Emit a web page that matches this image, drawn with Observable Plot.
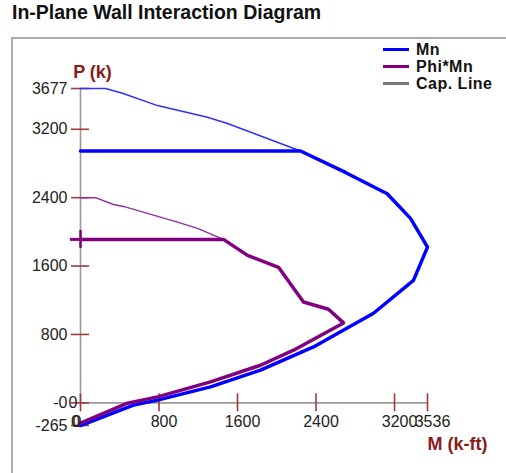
<!DOCTYPE html>
<html><head><meta charset="utf-8">
<script src="https://cdn.jsdelivr.net/npm/d3@7"></script>
<script src="https://cdn.jsdelivr.net/npm/@observablehq/plot@0.6"></script>
<style>
body{margin:0;background:#fff;width:506px;height:473px;overflow:hidden;position:relative;font-family:"Liberation Sans",Arial,sans-serif}
#title{position:absolute;left:12px;top:1px;font-size:19.5px;font-weight:bold;color:#111;white-space:nowrap}
#frame{position:absolute;left:11px;top:37px;width:600px;height:600px;border:2px solid #aaa}
#chart{position:absolute;left:0;top:0}
#legend{position:absolute;left:383px;top:41px}
.item{display:flex;align-items:center;height:17px;line-height:17px;font-size:16px;font-weight:bold;color:#111;white-space:nowrap;letter-spacing:0.5px}
.item span{display:block;height:17px;line-height:17px}
.sw{width:26px;height:3px;margin-right:7px}
</style></head>
<body>
<div id="title">In-Plane Wall Interaction Diagram</div>
<div id="frame"></div>
<div id="chart"></div>
<div id="legend"></div>
<script>
// ---- data ----
const mnUpperM = [0, 255, 428, 785, 1294, 1498, 2242];
const mnUpperP = [3677, 3677, 3621, 3477, 3341, 3268, 2946];
const mnM = [0, 2242, 2700, 3125, 3363, 3536, 3393, 2986, 2374, 1834, 1325, 785, 540, 0];
const mnP = [2946, 2946, 2695, 2446, 2158, 1822, 1433, 1048, 654, 382, 187, 32, -27, -265];
const phiUpperM = [0, 153, 336, 438, 683, 988, 1192, 1457];
const phiUpperP = [2400, 2400, 2321, 2298, 2216, 2114, 2041, 1912];
const phiM = [0, 1457, 1702, 2018, 2272, 2527, 2680, 2171, 1834, 1325, 785, 479, 0];
const phiP = [1912, 1912, 1725, 1585, 1180, 1095, 935, 616, 440, 245, 70, -4, -238];
const phiCap = 1912;
const yTicks = [3677, 3200, 2400, 1600, 800, 0, -265];
const yTickLabels = ["3677", "3200", "2400", "1600", "800", "-0", "-265"];
const xTicks = [0, 800, 1600, 2400, 3200, 3536];
const xTickLabels = ["0", "800", "1600", "2400", "3200", "3536"];
const legendNames = ["Mn", "Phi*Mn", "Cap. Line"];
const legendColors = ["#0000ff", "#800080", "#777777"];

const zip = (a, b) => a.map((v, i) => ({M: v, P: b[i]}));
const blue = "#0000ff", purple = "#800080", tickRed = "#a03a3a", axisGray = "#9a9a9a";
const font = "Liberation Sans, Arial, sans-serif";
const xLab = xTicks.map((v, i) => ({v, t: xTickLabels[i]}));

const chart = Plot.plot({
  width: 506, height: 473,
  marginLeft: 80, marginRight: 79, marginTop: 88, marginBottom: 48,
  x: {domain: [0, 3536], axis: null},
  y: {domain: [-265, 3677], axis: null},
  style: {fontFamily: font, background: "transparent"},
  marks: [
    Plot.ruleX([0], {y1: 0, y2: 3677, stroke: axisGray, strokeWidth: 1.6}),
    Plot.ruleY([0], {x1: 0, x2: 3536, stroke: axisGray, strokeWidth: 1.6}),
    Plot.ruleY(yTicks, {x1: -92, x2: 92, stroke: tickRed, strokeWidth: 1.6}),
    Plot.ruleX(xTicks, {y1: -105, y2: 105, stroke: tickRed, strokeWidth: 1.6}),
    Plot.line(zip(mnUpperM, mnUpperP), {x: "M", y: "P", stroke: "#3030ff", strokeWidth: 1.5}),
    Plot.line(zip(mnM, mnP), {x: "M", y: "P", stroke: blue, strokeWidth: 3.5, strokeLinejoin: "round"}),
    Plot.line(zip(phiUpperM, phiUpperP), {x: "M", y: "P", stroke: "#9030a0", strokeWidth: 1.5}),
    Plot.line(zip(phiM, phiP), {x: "M", y: "P", stroke: purple, strokeWidth: 3.5, strokeLinejoin: "round"}),
    Plot.ruleY([phiCap], {x1: -102, x2: 0, stroke: purple, strokeWidth: 3}),
    Plot.ruleX([0], {y1: phiCap - 105, y2: phiCap + 105, stroke: purple, strokeWidth: 2.5}),
    Plot.text(yTicks, {x: 0, y: d => d, text: (d, i) => yTickLabels[i], textAnchor: "end", dx: -13, fontSize: 16, fill: "#222"}),
    Plot.text([0], {x: 0, y: 0, text: () => "0", textAnchor: "end", dx: -3, fontSize: 16, fill: "#222"}),
    Plot.text(xLab.filter(d => d.v !== 0), {x: "v", y: 0, text: "t", textAnchor: "middle", dx: 5, dy: 19, fontSize: 16, fill: "#222"}),
    Plot.text(xLab.filter(d => d.v === 0), {x: "v", y: 0, text: "t", textAnchor: "middle", dx: -5, dy: 19, fontSize: 16, fill: "#222"}),
    Plot.text(xLab.filter(d => d.v === 0), {x: "v", y: 0, text: "t", textAnchor: "middle", dx: -3.5, dy: 19, fontSize: 16, fill: "#222"}),
    Plot.text(["P (k)"], {x: 0, y: 3677, text: d => d, textAnchor: "middle", dx: 12, dy: -16, fontSize: 18, fontWeight: "bold", fill: "#8b1a1a"}),
    Plot.text(["M (k-ft)"], {x: 3536, y: 0, text: d => d, textAnchor: "start", dx: 0, dy: 41.5, fontSize: 18, fontWeight: "bold", fill: "#8b1a1a"})
  ]
});
document.getElementById("chart").appendChild(chart);

const lg = document.getElementById("legend");
legendNames.forEach((n, i) => {
  const it = document.createElement("div");
  it.className = "item";
  const sw = document.createElement("div");
  sw.className = "sw";
  sw.style.background = legendColors[i];
  const t = document.createElement("span");
  t.textContent = n;
  it.appendChild(sw); it.appendChild(t);
  lg.appendChild(it);
});
</script>
</body></html>
